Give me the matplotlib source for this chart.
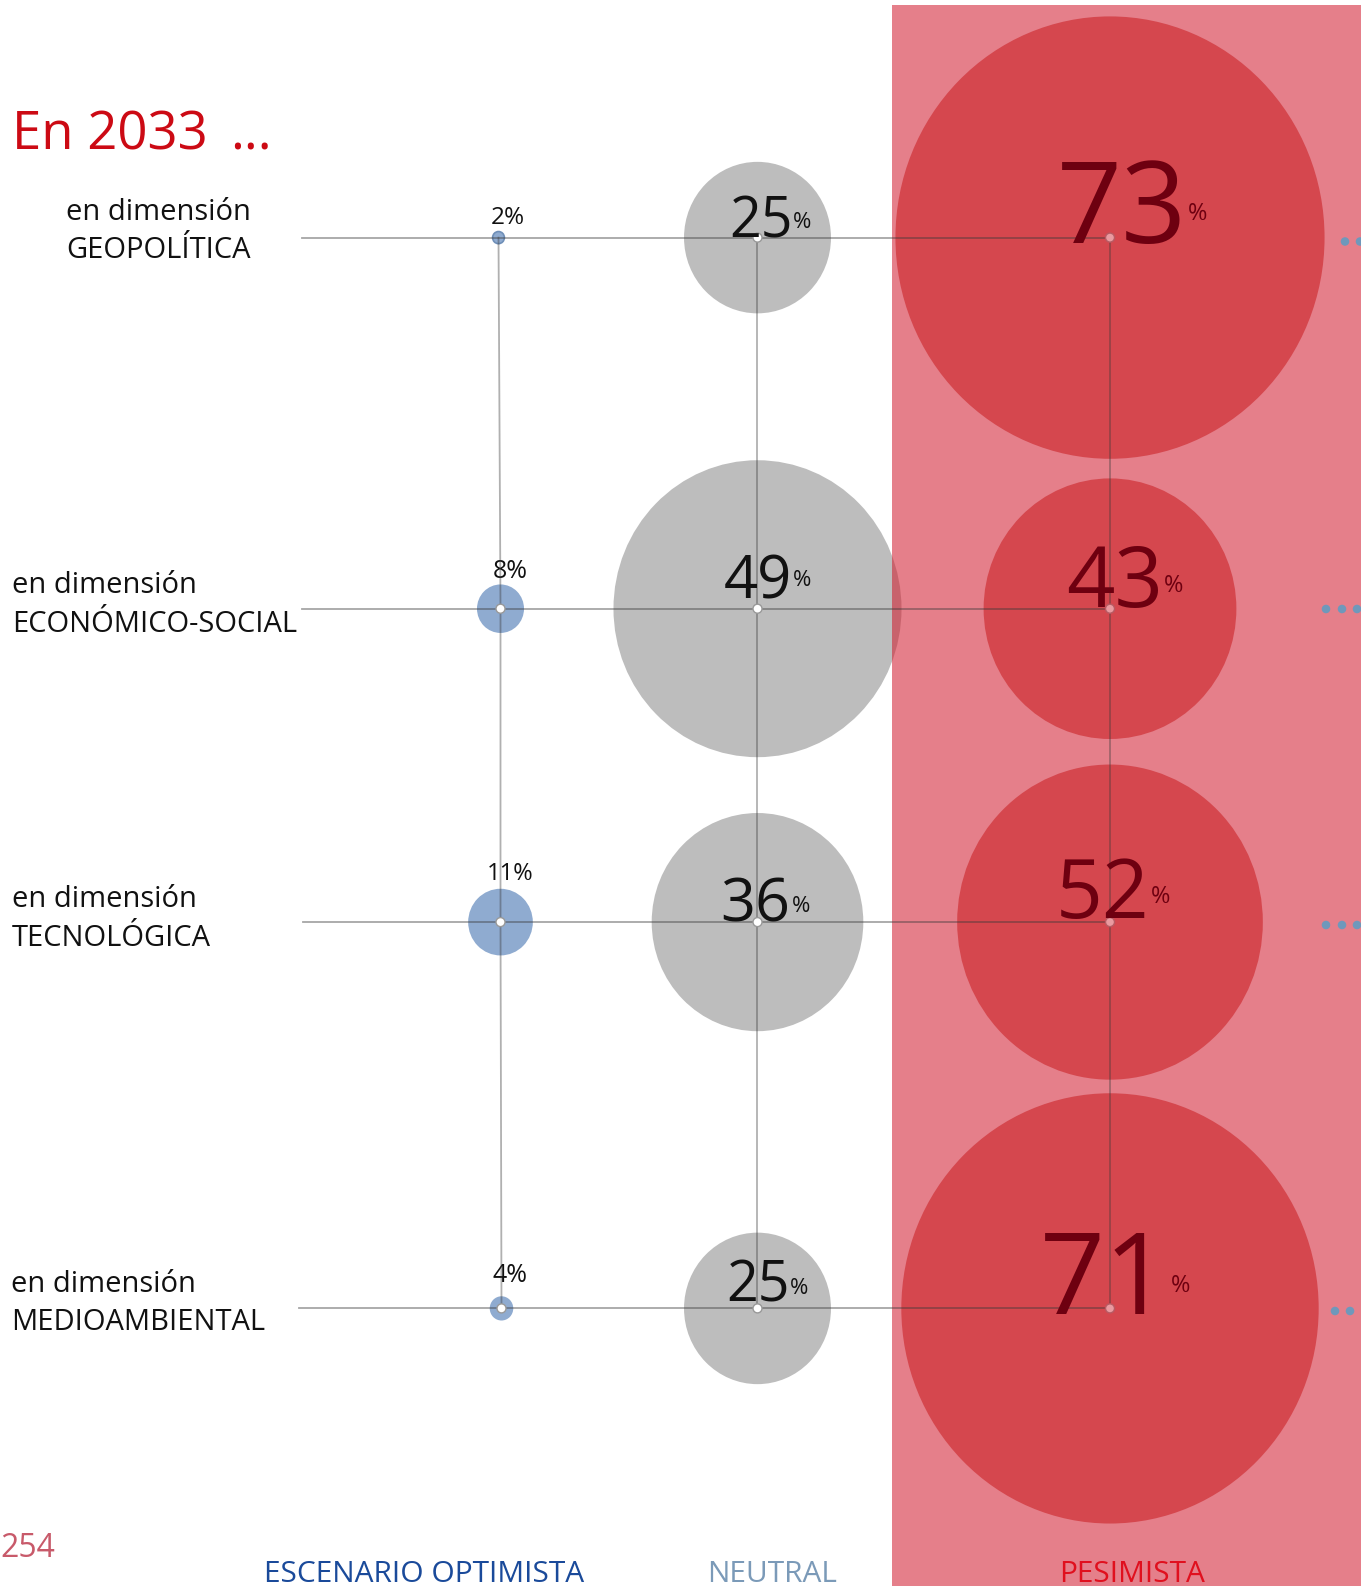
import matplotlib
matplotlib.use("Agg")
import matplotlib.pyplot as plt
from matplotlib.patches import Ellipse, Circle, Rectangle

plt.rcParams['font.family'] = ['Open Sans', 'DejaVu Sans']

# data
dimensions = ['GEOPOLÍTICA', 'ECONÓMICO-SOCIAL', 'TECNOLÓGICA', 'MEDIOAMBIENTAL']
optimista = [2, 8, 11, 4]
neutral = [25, 49, 36, 25]
pesimista = [73, 43, 52, 71]
scenarios = ['ESCENARIO OPTIMISTA', 'NEUTRAL', 'PESIMISTA']

# layout (pixel coords, y down)
W, H = 1361, 1586
row_y = [237.6, 608.7, 922.1, 1308.4]
opt_x = [498.5, 500.5, 500.5, 501.5]
neu_x = 757.5
pes_x = 1110
px_per_pct = 3.03
x_squash = 0.97   # bubbles are slightly narrower than tall in the original
line_start = [302, 302, 303, 299]

GREY = '#bdbdbd'
BLUE = '#8fabd0'
RED = '#d5474e'
LINE = '#3a3a3a'


def bubble(x, y, pct, **kw):
    r = pct * px_per_pct
    return Ellipse((x, y), 2 * r * x_squash, 2 * r, **kw)


fig = plt.figure(figsize=(W / 100, H / 100), dpi=100)
ax = fig.add_axes([0, 0, 1, 1])
ax.set_xlim(0, W)
ax.set_ylim(H, 0)
ax.set_aspect('equal')
ax.axis('off')

# bubbles for neutral and optimist
for i in range(4):
    ax.add_patch(bubble(neu_x, row_y[i], neutral[i], fc=GREY, ec='none', zorder=1))
    ec = '#6f8fb8' if optimista[i] < 3 else 'none'
    ax.add_patch(bubble(opt_x[i], row_y[i], optimista[i], fc=BLUE, ec=ec, lw=1.2, zorder=1))

# pink band
ax.add_patch(Rectangle((892, 5), W - 892, H - 5, fc='#d11c2e', alpha=0.56, ec='none', zorder=2))

for i in range(4):
    ax.add_patch(bubble(pes_x, row_y[i], pesimista[i], fc=RED, ec='none', zorder=3))

# grid lines
for i in range(4):
    ax.plot([line_start[i], pes_x], [row_y[i], row_y[i]], color=LINE, alpha=0.45, lw=1.3, zorder=4)
ax.plot(opt_x, row_y, color=LINE, alpha=0.4, lw=1.3, zorder=4)
ax.plot([neu_x, neu_x], [row_y[0], row_y[-1]], color=LINE, alpha=0.4, lw=1.3, zorder=4)
ax.plot([pes_x, pes_x], [row_y[0], row_y[-1]], color=LINE, alpha=0.4, lw=1.3, zorder=4)

# centre dots
for i in range(4):
    ax.add_patch(Circle((neu_x, row_y[i]), 4.5, fc='white', ec='#999999', lw=1, zorder=5))
    ax.add_patch(Circle((pes_x, row_y[i]), 4.5, fc='#ea9aa0', ec='#b85a62', lw=1, zorder=5))
    if optimista[i] * px_per_pct > 8:
        ax.add_patch(Circle((opt_x[i], row_y[i]), 4.5, fc='white', ec='#999999', lw=1, zorder=5))

# decorative dots at right edge
edge_dots = [[1345, 1360], [1326, 1342, 1357], [1326, 1342, 1357], [1335, 1350]]
edge_y = [241.5, 609, 925, 1311]
for xs, yy in zip(edge_dots, edge_y):
    ax.scatter(xs, [yy] * len(xs), s=38, color='#6f98bb', edgecolors='none', zorder=6)

# title
ax.text(12, 150, 'En 2033', color='#cc0a14', fontsize=38, va='baseline', ha='left')
ax.text(230, 150, '...', color='#cc0a14', fontsize=38, va='baseline', ha='left')

# row labels
lab_x = [66, 12, 12, 11]
lab_y = [220, 593, 907, 1292]
for i, name in enumerate(dimensions):
    ax.text(lab_x[i], lab_y[i], 'en dimensión', fontsize=21, color='#111111', va='baseline')
    ax.text(lab_x[i], lab_y[i] + 38.5, name, fontsize=21, color='#111111', va='baseline')

# optimist labels
opt_lab = [(508, 224.5), (510, 578), (510.6, 879.6), (510, 1282)]
opt_fs = [17.5, 18, 17, 18]
for i, (x, y) in enumerate(opt_lab):
    ax.text(x, y, f'{optimista[i]}%', fontsize=opt_fs[i], color='#111111', ha='center', va='baseline')

# neutral numbers: (digits right, baseline, % left, % baseline, size)
neu_lab = [(792.5, 237.6, 792.7, 227.5, 40),
           (792.5, 598.6, 792.7, 586.4, 43),
           (790.5, 922, 791.7, 912, 44),
           (789.5, 1301, 789.7, 1294, 40)]
for i, (xr, yb, xp, yp, fs) in enumerate(neu_lab):
    ax.text(xr, yb, str(neutral[i]), fontsize=fs, color='#111111', ha='right', va='baseline', zorder=7)
    ax.text(xp, yp, '%', fontsize=16, color='#111111', ha='left', va='baseline', zorder=7)

pes_lab = [(1187, 242.6, 1187.5, 220, 82),
           (1163, 606.7, 1163.5, 591.5, 61),
           (1150, 918, 1150.5, 903, 59),
           (1170, 1314, 1171, 1292, 82)]
for i, (xr, yb, xp, yp, fs) in enumerate(pes_lab):
    ax.text(xr, yb, str(pesimista[i]), fontsize=fs, color='#6e0010', ha='right', va='baseline', zorder=7)
    ax.text(xp, yp, '%', fontsize=17, color='#6e0010', ha='left', va='baseline', zorder=7)

# footer
ax.text(0, 1557, '254', fontsize=23, color='#c85a6a', ha='left', va='baseline')
foot_x = [424, 772, 1132]
foot_c = ['#1a4a9a', '#7b9ab8', '#e0101e']
for name, x, c in zip(scenarios, foot_x, foot_c):
    ax.text(x, 1582, name, fontsize=21.5, color=c, ha='center', va='baseline')

fig.savefig('out.png', dpi=100)
